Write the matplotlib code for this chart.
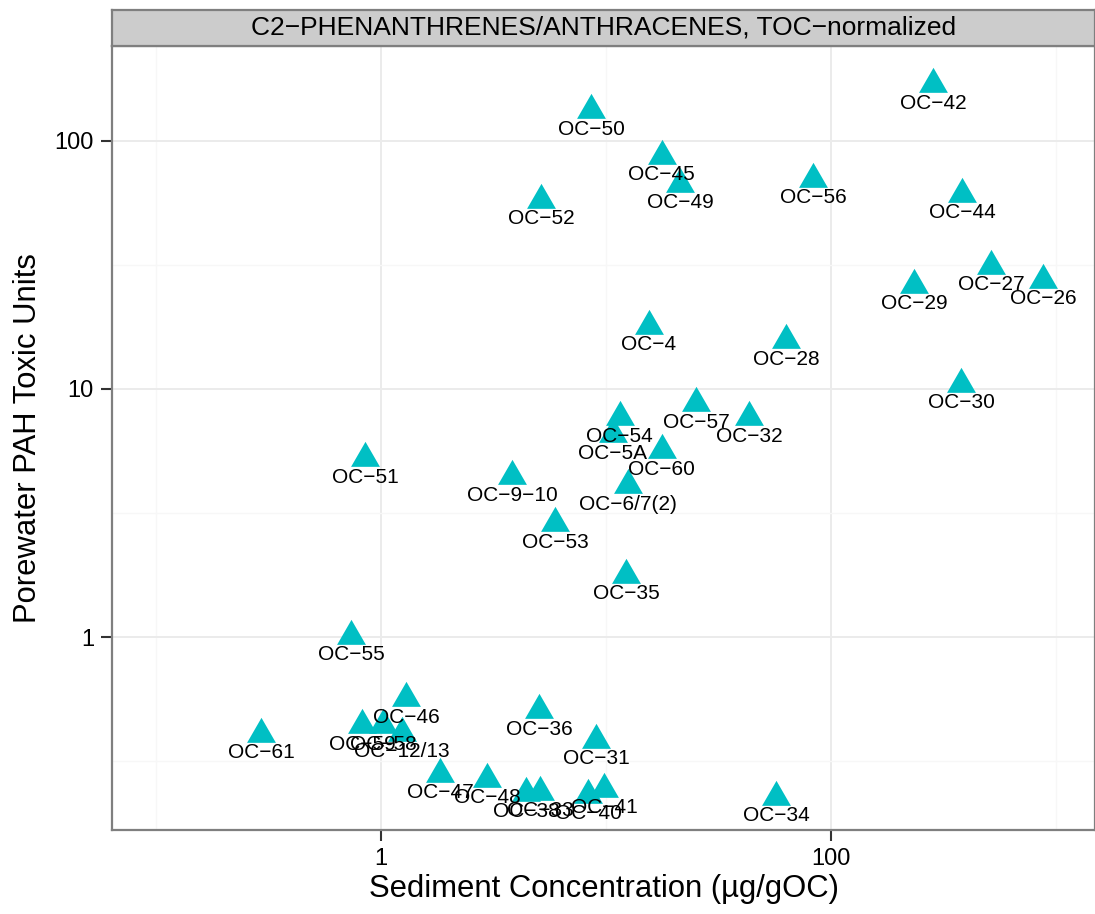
import matplotlib
matplotlib.use('Agg')
import matplotlib.pyplot as plt
from matplotlib.ticker import NullFormatter, FixedLocator

plt.rcParams['font.family'] = ['Liberation Sans', 'DejaVu Sans']

# data (sediment conc. in ug/gOC, porewater toxic units)
stations = ['OC−42', 'OC−50', 'OC−45', 'OC−49', 'OC−56', 'OC−52', 'OC−44',
            'OC−29', 'OC−27', 'OC−26', 'OC−30', 'OC−4', 'OC−28', 'OC−57',
            'OC−32', 'OC−54', 'OC−5A', 'OC−60', 'OC−6/7(2)', 'OC−35',
            'OC−53', 'OC−9−10', 'OC−51', 'OC−55', 'OC−61', 'OC−59', 'OC−58',
            'OC−12/13', 'OC−46', 'OC−47', 'OC−36', 'OC−31', 'OC−48',
            'OC−38', 'OC−33', 'OC−40', 'OC−41', 'OC−34']
sed_conc = [284, 8.58, 17.7, 21.3, 83.2, 5.14, 382,
            234, 514, 875, 378, 15.5, 63.1, 25.1,
            43.2, 11.5, 10.7, 17.7, 12.5, 12.3,
            5.93, 3.82, 0.849, 0.735, 0.293, 0.823, 1.02,
            1.24, 1.29, 1.83, 5.04, 9.03, 2.96,
            4.41, 5.09, 8.32, 9.80, 57.0]
toxic_units = [169, 133, 87.0, 67.1, 70.3, 57.9, 61.2,
               26.3, 31.4, 27.6, 10.5, 18.0, 15.7, 8.74,
               7.68, 7.68, 6.56, 5.66, 4.09, 1.78,
               2.88, 4.45, 5.25, 1.01, 0.407, 0.442, 0.442,
               0.411, 0.568, 0.281, 0.508, 0.385, 0.268,
               0.236, 0.238, 0.231, 0.245, 0.227]

TITLE = 'C2−PHENANTHRENES/ANTHRACENES, TOC−normalized'
W, H = 1095, 914

fig = plt.figure(figsize=(W / 100, H / 100), dpi=100)
ax = fig.add_axes([112 / W, 1 - 830 / H, 1 - 112 / W, (830 - 46) / H])

ax.set_xscale('log')
ax.set_yscale('log')
ax.set_xlim(0.0637, 1490)
ax.set_ylim(0.167, 241)

# ggplot-like grid
ax.xaxis.set_major_locator(FixedLocator([1, 100]))
ax.xaxis.set_minor_locator(FixedLocator([0.1, 10, 1000]))
ax.yaxis.set_major_locator(FixedLocator([1, 10, 100]))
ax.yaxis.set_minor_locator(FixedLocator([10 ** -0.5, 10 ** 0.5, 10 ** 1.5]))
ax.xaxis.set_minor_formatter(NullFormatter())
ax.yaxis.set_minor_formatter(NullFormatter())
ax.set_xticklabels(['1', '100'])
ax.set_yticklabels(['1', '10', '100'])
ax.grid(which='major', color='#EBEBEB', lw=1.4)
ax.grid(which='minor', color='#F7F7F7', lw=1.0)
ax.set_axisbelow(True)
ax.tick_params(which='major', length=8, width=1.5, color='#333333',
               labelsize=17, labelcolor='black', pad=5)
ax.tick_params(which='minor', length=0)
for sp in ax.spines.values():
    sp.set_color('#7F7F7F')
    sp.set_linewidth(1.6)

# triangle marker centred on its centroid, like R pch 17
tri = [(0, 1), (-0.866, -0.5), (0.866, -0.5)]
ax.plot(sed_conc, toxic_units, linestyle='none', marker=tri, markersize=24,
        color='#00BFC4', markeredgewidth=0, zorder=3)
for lab, x, y in zip(stations, sed_conc, toxic_units):
    ax.annotate(lab, (x, y), xytext=(0, -17.6), textcoords='offset points',
                ha='center', va='baseline', fontsize=15, color='black',
                zorder=4, annotation_clip=False)

ax.set_xlabel('Sediment Concentration (µg/gOC)', fontsize=22.3, labelpad=3)
ax.set_ylabel('Porewater PAH Toxic Units', fontsize=22.3, labelpad=8)

# facet strip
strip = fig.add_axes([112 / W, 1 - 46 / H, 1 - 112 / W, 36 / H])
strip.set_facecolor('#CCCCCC')
strip.set_xticks([])
strip.set_yticks([])
for sp in strip.spines.values():
    sp.set_color('#7F7F7F')
    sp.set_linewidth(1.6)
strip.text(0.5, 0.5, TITLE, ha='center', va='center', fontsize=19,
           transform=strip.transAxes)

fig.savefig('out.png', dpi=100)
